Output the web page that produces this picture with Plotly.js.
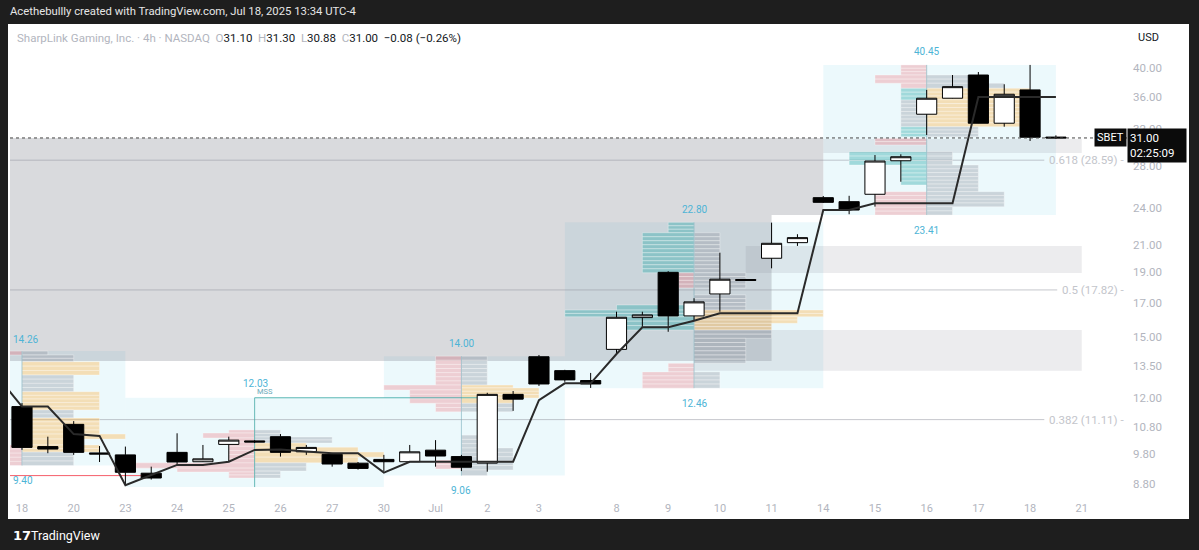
<!DOCTYPE html>
<html><head><meta charset="utf-8">
<script src="https://cdn.plot.ly/plotly-3.0.1.min.js"></script>
<style>html,body{margin:0;padding:0;background:#1e1e1e;}#chart{width:1199px;height:550px;}</style>
</head><body><div id="chart"></div>
<script>
// ---------- DATA ----------
const candleOpen  = [11.65,10.07,10.92,9.84,9.77,9.14,9.86,9.53,10.15,10.28,10.44,9.88,9.79,9.48,9.61,9.53,9.94,9.71,9.48,12.18,13.97,13.28,12.81,14.35,16.11,19.00,16.21,17.56,18.51,20.00,21.17,24.94,24.58,25.25,28.53,33.80,35.83,38.99,32.71,36.93,31.10];
const candleHigh  = [11.80,10.44,11.05,10.09,10.07,9.36,10.57,10.13,10.44,10.31,10.54,10.13,9.84,9.52,9.77,10.13,10.31,9.77,12.25,12.33,14.06,13.32,13.17,16.46,16.46,19.08,17.29,20.41,18.55,22.77,21.83,25.09,25.11,29.13,29.21,36.93,38.99,39.42,37.70,40.45,31.30];
const candleLow   = [9.95,9.83,9.77,9.52,8.75,8.93,9.42,9.52,9.53,10.20,9.71,9.77,9.36,9.26,9.21,9.53,9.36,9.21,9.19,11.47,12.56,12.75,12.47,14.06,15.58,15.30,15.97,16.46,18.42,19.28,20.92,24.46,23.48,24.14,26.43,31.34,35.80,32.70,32.30,30.66,30.88];
const candleClose = [10.04,9.98,9.86,9.80,9.17,8.98,9.52,9.63,10.31,10.24,9.86,10.04,9.45,9.30,9.53,9.88,9.73,9.34,12.18,11.97,12.65,12.84,12.65,16.13,16.27,16.21,17.06,18.53,18.45,21.12,21.56,24.52,23.84,28.50,28.95,35.83,37.37,32.71,36.35,31.08,31.00];

// developing POC line, starting one bar before the first visible candle
const pocFirstBar = -1;
const pocLine = [13.07,11.65,11.65,10.54,10.47,8.75,9.08,9.42,9.42,9.53,9.95,9.96,9.89,9.83,9.83,9.16,9.53,9.53,9.53,9.53,9.53,11.93,12.68,12.68,14.11,15.55,15.55,15.93,16.37,16.37,16.37,16.37,23.84,23.84,24.43,24.43,24.43,24.43,35.98,35.98,35.98,35.98];

// date labels and the bar each one falls on
const dateLabels   = ['18','20','23','24','25','26','27','30','Jul','2','3','8','9','10','11','14','15','16','17','18','21'];
const dateLabelBar = [0,2,4,6,8,10,12,14,16,18,20,23,25,27,29,31,33,35,37,39,41];

const priceTicks = [40,36,32,28,24,21,19,17,15,13.5,12,10.8,9.8,8.8];

// fibonacci levels
const fibLevels = [0.382, 0.5, 0.618];
const fibPrices = [11.11, 17.82, 28.59];

// session volume profiles
const vpHigh      = [14.26, 12.03, 14.00, 22.80, 40.45];
const vpLow       = [9.40, 8.69, 9.06, 12.46, 23.41];
const vpStartBar  = [-9, 4, 14, 21, 31];
const vpEndBar    = [4, 14, 21, 31, 40];
const vpCenterBar = [0, 9, 17, 26, 35];
// rows: [top, bottom, length in bars, kind]  g=gray o=value area p=sell t=buy
const vp1Right = [[14.26,14.06,1,'g'],[14.06,13.72,2,'g'],[13.72,13.07,3,'o'],[13.07,12.30,2,'g'],[12.30,11.51,3,'o'],[11.51,11.18,2,'g'],[11.18,10.54,3,'o'],[10.54,10.35,4,'o'],[10.35,10.13,2.4,'o'],[10.13,9.87,3,'o'],[9.87,9.40,2,'g']];
const vp1Left  = [[14.26,14.06,0.5,'p'],[10.13,9.40,0.5,'p']];
const vp2Right = [[10.70,10.43,1,'g'],[10.43,10.20,3,'g'],[10.20,10.05,2,'o'],[10.05,9.87,4,'o'],[9.87,9.69,5,'o'],[9.69,9.49,4,'o'],[9.49,9.21,2,'g'],[9.21,8.98,1,'g']];
const vp2Left  = [[10.70,10.58,1,'p'],[10.58,10.39,2,'p'],[10.39,9.49,1,'p'],[9.49,9.31,4.6,'p'],[9.31,9.18,3,'p'],[9.18,8.98,1,'p']];
const vp3Right = [[14.00,12.60,1,'g'],[12.60,12.47,2,'o'],[12.47,12.02,3,'o'],[12.02,11.79,2,'o'],[11.79,11.43,2,'g'],[10.50,10.02,1,'g'],[10.02,9.25,2,'g'],[9.25,9.06,1,'g']];
const vp3Left  = [[14.00,12.60,1,'p'],[12.60,12.38,3,'p'],[12.38,11.79,2,'p'],[11.79,11.43,1,'p'],[9.59,9.28,1,'p']];
const vp4Right = [[21.95,18.97,1,'g'],[18.97,17.95,2,'g'],[17.50,16.56,2,'g'],[16.56,16.16,5,'o'],[16.16,15.78,4,'o'],[15.78,15.40,3,'o'],[15.40,14.94,3,'g'],[14.94,13.64,2,'g'],[13.22,12.46,1,'g']];
const vp4Left  = [[22.80,21.95,1,'t'],[21.95,18.97,2,'t'],[18.97,17.95,0.6,'p'],[16.87,16.56,3,'t'],[16.56,16.16,5,'t'],[16.16,15.40,3,'t'],[13.64,13.22,1,'p'],[13.22,12.46,2,'p']];
const vp5Right = [[38.99,37.84,2.2,'g'],[37.84,37.15,3,'g'],[37.15,32.30,4,'o'],[32.30,31.14,2,'g'],[29.49,28.09,1,'g'],[28.09,25.49,2,'g'],[25.49,24.13,3,'g'],[24.13,23.41,1,'g']];
const vp5Left  = [[40.45,38.99,1,'p'],[38.99,37.84,2,'p'],[37.84,37.15,1,'p'],[37.15,35.59,1,'t'],[35.59,32.30,1,'g'],[32.30,31.14,1,'t'],[30.96,30.22,2,'p'],[29.49,28.09,3,'t'],[28.09,26.12,1,'t'],[25.49,23.41,2,'p']];

// shaded zones: [startBar, endBar, top, bottom]
const zoneStrong = [[-1,31,31.00,23.41],[-1,29,23.41,13.75]];
const zoneLight  = [[31,41,30.88,29.35],[28,41,20.92,18.95],[26,41,15.40,13.27]];

const mssLevel = 12.03, mssFromBar = 9, mssToBar = 18;
const liqLevel = 9.06;
const ticker = 'SBET', countdown = '02:25:09';

// ---------- RENDER ----------
const L = v => Math.log10(v);
const W = 1199, H = 550, ML = 10, MR = 72, MT = 25, MB = 55;
const PW = W - ML - MR, PH = H - MT - MB;
const PX = x => (x - ML) / PW, PY = y => (H - MB - y) / PH;
const yRange = [0.92643, 1.67010];
const pxPerDec = PH / (yRange[1] - yRange[0]);
const xs = candleOpen.map((_, i) => i);
const last = xs.length - 1;

const shapes = [];
const annotations = [];
shapes.push({type:'rect', xref:'paper', yref:'paper', x0:PX(8), x1:PX(1189), y0:PY(519), y1:PY(24), fillcolor:'#ffffff', line:{width:0}, layer:'below'});

// profile boxes
vpHigh.forEach((hi, k) => {
  shapes.push({type:'rect', xref:'x', yref:'y', x0:vpStartBar[k], x1:vpEndBar[k], y0:vpLow[k], y1:hi, fillcolor:'rgba(0,170,215,0.075)', line:{width:0}, layer:'below'});
});
zoneStrong.forEach(z => shapes.push({type:'rect', xref:'x', yref:'y', x0:z[0], x1:z[1], y0:z[3], y1:z[2], fillcolor:'rgba(120,123,134,0.28)', line:{width:0}, layer:'below'}));
zoneLight.forEach(z => shapes.push({type:'rect', xref:'x', yref:'y', x0:z[0], x1:z[1], y0:z[3], y1:z[2], fillcolor:'rgba(120,123,134,0.14)', line:{width:0}, layer:'below'}));

// fib lines
const fibEnd = [39.55, 40.05, 39.55];
fibPrices.forEach((p, k) => {
  shapes.push({type:'line', xref:'x', yref:'y', x0:-1, x1:fibEnd[k], y0:p, y1:p, line:{color:'rgba(150,153,162,0.55)', width:1}, layer:'below'});
  annotations.push({xref:'x', yref:'y', x:42.72, y:L(p), xanchor:'right', yanchor:'middle', showarrow:false, text:`${fibLevels[k]} (${p.toFixed(2)}) -`, font:{family:'Roboto', size:11.5, color:'#c3c5cb'}});
});

// profile rows
const kindColor = {g:'rgba(140,146,158,0.36)', o:'rgba(255,183,77,0.40)', p:'rgba(242,54,69,0.22)', t:'rgba(38,166,166,0.38)'};
function addRows(center, rows, side) {
  rows.forEach(([top, bot, len, kind]) => {
    const lt = L(top), lb = L(bot);
    const n = Math.max(1, Math.round((lt - lb) * pxPerDec / 4));
    for (let j = 0; j < n; j++) {
      const a = Math.pow(10, lt - (lt - lb) * j / n);
      const b = Math.pow(10, lt - (lt - lb) * (j + 1) / n);
      shapes.push({type:'rect', xref:'x', yref:'y', x0:center, x1:center + side * len, y0:b, y1:a, fillcolor:kindColor[kind], line:{color:'rgba(255,255,255,0.55)', width:0.6}, layer:'below'});
    }
  });
}
const rightSets = [vp1Right, vp2Right, vp3Right, vp4Right, vp5Right];
const leftSets  = [vp1Left, vp2Left, vp3Left, vp4Left, vp5Left];
vpCenterBar.forEach((c, k) => {
  addRows(c, rightSets[k], 1);
  addRows(c, leftSets[k], -1);
  shapes.push({type:'line', xref:'x', yref:'y', x0:c, x1:c, y0:vpLow[k], y1:vpHigh[k], line:{color: k === 1 ? 'rgba(60,165,160,0.75)' : 'rgba(110,165,180,0.55)', width:1}, layer:'below'});
});

// MSS and liquidity lines
shapes.push({type:'line', xref:'x', yref:'y', x0:mssFromBar, x1:mssToBar, y0:mssLevel, y1:mssLevel, line:{color:'rgba(50,165,160,0.8)', width:1}, layer:'below'});
shapes.push({type:'line', xref:'x', yref:'y', x0:-1, x1:4.6, y0:liqLevel, y1:liqLevel, line:{color:'rgba(242,54,69,0.8)', width:1}, layer:'below'});
// last price dotted line
shapes.push({type:'line', xref:'paper', yref:'y', x0:0, x1:1, y0:candleClose[last], y1:candleClose[last], line:{color:'#444', width:1, dash:'dot'}, layer:'above'});

// profile labels
const cyan = '#4db4d6';
const lab = (x, p, txt, xa, ys, size, color) => annotations.push({xref:'x', yref:'y', x, y:L(p), xanchor:xa, yanchor:'middle', yshift:ys, showarrow:false, text:txt, font:{family:'Roboto', size:size||10, color:color||cyan}});
lab(-0.43, vpHigh[0], vpHigh[0].toFixed(2), 'left', 12);
lab(-0.43, vpLow[0], vpLow[0].toFixed(2), 'left', -15);
lab(vpCenterBar[1] + 0.05, vpHigh[1], vpHigh[1].toFixed(2), 'center', 14);
lab(vpCenterBar[1] + 0.4, vpHigh[1], 'MSS', 'center', 6, 7.5, '#6aa9b8');
for (let k = 2; k < 5; k++) {
  lab(vpCenterBar[k], vpHigh[k], vpHigh[k].toFixed(2), 'center', 13);
  lab(vpCenterBar[k], vpLow[k], vpLow[k].toFixed(2), 'center', -15);
}

// price tags
annotations.push({xref:'paper', yref:'y', x:1, y:L(candleClose[last]), xanchor:'right', yanchor:'middle', showarrow:false, text:ticker, bgcolor:'#0b0b0b', borderpad:2, font:{family:'Roboto', size:11, color:'#ffffff'}});
annotations.push({xref:'paper', yref:'y', x:1, y:L(candleClose[last]), xanchor:'left', yanchor:'top', yshift:10, showarrow:false, align:'left', text:candleClose[last].toFixed(2) + '<br>' + countdown, bgcolor:'#0b0b0b', borderpad:2, width:54, font:{family:'Roboto', size:11.5, color:'#ffffff'}});

// header texts
const chg = candleClose[last] - candleClose[last - 1];
const pct = chg / candleClose[last - 1] * 100;
const fmt = v => (v < 0 ? '−' : '+') + Math.abs(v).toFixed(2);
const gs = s => `<span style="color:#b2b5be">${s}</span>`;
const legendText = gs('SharpLink Gaming, Inc. · 4h · NASDAQ') + '&nbsp;&nbsp;' + gs('O') + candleOpen[last].toFixed(2) + '&nbsp;&nbsp;' + gs('H') + candleHigh[last].toFixed(2) + '&nbsp;&nbsp;' + gs('L') + candleLow[last].toFixed(2) + '&nbsp;&nbsp;' + gs('C') + candleClose[last].toFixed(2) + '&nbsp;&nbsp;' + fmt(chg) + ' (' + fmt(pct) + '%)';
annotations.push({xref:'paper', yref:'paper', x:PX(15), y:PY(38), xanchor:'left', yanchor:'middle', showarrow:false, text:legendText, font:{family:'Roboto', size:11.5, color:'#131722'}});
annotations.push({xref:'paper', yref:'paper', x:PX(8), y:PY(11), xanchor:'left', yanchor:'middle', showarrow:false, text:'Acethebullly created with TradingView.com, Jul 18, 2025 13:34 UTC-4', font:{family:'Roboto', size:11.3, color:'#e6e6e6'}});
annotations.push({xref:'paper', yref:'paper', x:PX(1148), y:PY(38), xanchor:'center', yanchor:'middle', showarrow:false, text:'USD', font:{family:'Roboto', size:11, color:'#131722'}});
annotations.push({xref:'paper', yref:'paper', x:PX(11), y:PY(535), xanchor:'left', yanchor:'middle', showarrow:false, text:'<b>17</b>', font:{family:'DejaVu Sans', size:13, color:'#ffffff'}});
annotations.push({xref:'paper', yref:'paper', x:PX(29), y:PY(535), xanchor:'left', yanchor:'middle', showarrow:false, text:'TradingView', font:{family:'Roboto', size:12.5, color:'#ffffff'}});

const traces = [
  {type:'scatter', mode:'lines', x:pocLine.map((_, i) => i + pocFirstBar), y:pocLine, line:{color:'#2a2a2a', width:2}, hoverinfo:'skip'},
  {type:'candlestick', x:xs, open:candleOpen, high:candleHigh, low:candleLow, close:candleClose,
   increasing:{fillcolor:'#ffffff', line:{color:'#000000', width:1}},
   decreasing:{fillcolor:'#000000', line:{color:'#000000', width:1}},
   whiskerwidth:0, hoverinfo:'skip'}
];

const layout = {
  width:W, height:H, margin:{l:ML, r:MR, t:MT, b:MB},
  paper_bgcolor:'#1e1e1e', plot_bgcolor:'#ffffff', showlegend:false,
  boxgap:0.22, boxgroupgap:0,
  xaxis:{range:[-0.464, 42.75], tickmode:'array', tickvals:dateLabelBar, ticktext:dateLabels, showgrid:false, zeroline:false, showline:false, ticks:'', ticklabelstandoff:5, tickfont:{family:'Roboto', size:11, color:'#b2b5be'}, rangeslider:{visible:false}, fixedrange:true},
  yaxis:{type:'log', range:yRange, side:'right', tickmode:'array', tickvals:priceTicks, ticktext:priceTicks.map(v => v.toFixed(2)), showgrid:false, zeroline:false, showline:false, ticks:'', ticklabelstandoff:5, tickfont:{family:'Roboto', size:11.5, color:'#b2b5be'}, fixedrange:true},
  shapes, annotations
};
Plotly.newPlot('chart', traces, layout, {displayModeBar:false, staticPlot:true});
</script></body></html>
